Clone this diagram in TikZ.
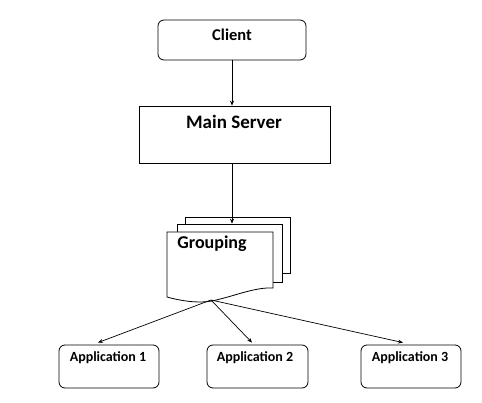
\documentclass[tikz,border=0pt]{standalone}
\usepackage{fontspec}
\setmainfont{Carlito}
\usetikzlibrary{arrows.meta,calc}
\tikzset{
  box/.style={draw=black, line width=0.8pt, fill=white, inner sep=0pt},
  rbox/.style={box, rounded corners=6pt},
  sheet/.style={draw=black, line width=0.8pt, fill=white, inner sep=0pt},
  lbl/.style={inner sep=0pt, font=\bfseries},
  conn/.style={draw=black, line width=0.7pt, -{Stealth[length=5pt,width=4pt]}},
}
\begin{document}
\begin{tikzpicture}[x=1pt,y=-1pt]
\useasboundingbox (0,0) rectangle (482,403);
% Client
\node[rbox, minimum width=148pt, minimum height=40pt] (client) at (232,40) {};
\node[lbl, font=\fontsize{16.5}{18}\bfseries] (clientT) at (232,35) {Client};
% Main server
\node[box, minimum width=191pt, minimum height=57pt] (server) at (234.5,134.5) {};
\node[lbl, font=\fontsize{19}{21}\bfseries] (serverT) at (234,122) {Main Server};
% Grouping (stacked documents)
\node[sheet, minimum width=105pt, minimum height=56pt] (back) at (237.5,245) {};
\node[sheet, minimum width=105pt, minimum height=58pt] (mid) at (229.5,253) {};
\draw[sheet] (167,232) -- (273,232) -- (273,288)
  .. controls (255,287) and (235,296) .. (212,301)
  .. controls (200,303) and (185,302) .. (167,297) -- cycle;
\coordinate (gbot) at (211,300);
\node[lbl, font=\fontsize{18}{20}\bfseries] (groupT) at (212,244) {Grouping};
% Applications
\node[rbox, minimum width=100pt, minimum height=43pt] (app1) at (109,366.5) {};
\node[rbox, minimum width=101pt, minimum height=43pt] (app2) at (257.5,366.5) {};
\node[rbox, minimum width=100pt, minimum height=43pt] (app3) at (411,366.5) {};
\node[lbl, font=\fontsize{14}{16}\bfseries] (app1T) at (108,358) {Application 1};
\node[lbl, font=\fontsize{14}{16}\bfseries] (app2T) at (255,358) {Application 2};
\node[lbl, font=\fontsize{14}{16}\bfseries] (app3T) at (410,358) {Application 3};
% Connectors
\draw[conn] (client.south) -- (client.south |- server.north);
\draw[conn] (client.south |- server.south) -- (client.south |- mid.north);
\draw[conn] (gbot) -- ([xshift=-11pt,yshift=2pt]app1.north);
\draw[conn] (gbot) -- ([xshift=-5.5pt,yshift=2pt]app2.north);
\draw[conn] (gbot) -- ([xshift=-8pt,yshift=2pt]app3.north);
\end{tikzpicture}
\end{document}
